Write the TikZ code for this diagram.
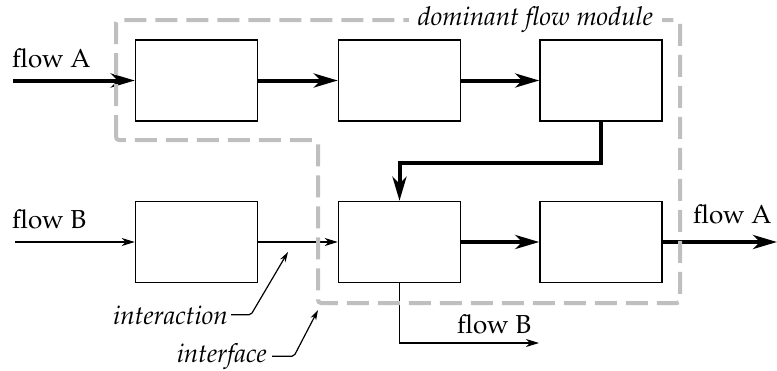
\documentclass[tikz,border=0pt]{standalone}
\usepackage[T1]{fontenc}
\usepackage{mathpazo}
\usetikzlibrary{arrows.meta}

\tikzset{
  block/.style={draw, line width=1.5pt, minimum width=122pt, minimum height=81pt, inner sep=0pt},
  lbl/.style={inner sep=0pt, font=\fontsize{26}{30}\selectfont},
  ilbl/.style={lbl, font=\fontsize{26}{30}\selectfont\itshape},
  major/.style={line width=4pt, -{Stealth[length=24pt, width=14pt, inset=7pt]}},
  minor/.style={line width=1.3pt, -{Stealth[length=13pt, width=8pt, inset=4pt]}},
  leader/.style={line width=1.2pt, rounded corners=2pt, -{Stealth[length=10pt, width=6pt, inset=3pt]}},
  module/.style={draw=black!25, line width=4pt, dash pattern=on 22pt off 9pt, rounded corners=3pt},
}

\begin{document}
\begin{tikzpicture}[x=1pt, y=-1pt]
\useasboundingbox (0,0) rectangle (777,370);

% processing blocks
\node[block] (b1) at (196.5,80.5) {};
\node[block] (b2) at (399.5,80.5) {};
\node[block] (b3) at (601,80.5) {};
\node[block] (b4) at (196.5,242) {};
\node[block] (b5) at (399.5,242) {};
\node[block] (b6) at (601,242) {};

% free ends of the external flows
\coordinate (inA) at (13,80.5);
\coordinate (outA) at (777,242);
\coordinate (inB) at (15,242);
\coordinate (outB) at (539,343);

% flow A (dominant)
\draw[major] (inA) -- (b1.west);
\draw[major] (b1.east) -- (b2.west);
\draw[major] (b2.east) -- (b3.west);
\draw[major] (b3.south) -- ++(0,41) -| (b5.north);
\draw[major] (b5.east) -- (b6.west);
\draw[major] (b6.east) -- (outA);

% flow B
\draw[minor] (inB) -- (b4.west);
\draw[minor] (b4.east) -- (b5.west);
\draw[minor] (b5.south) |- (outB);

% module boundary
\draw[module] (116,140) -- (116,20) -- (680,20) -- (680,303) -- (318,303) -- (318,140) -- cycle;
\node[ilbl, fill=white, inner xsep=9pt, anchor=base] (title) at (535.5,25) {dominant flow module};

% flow labels
\node[lbl, anchor=base west] (tA) at (12,67) {flow A};
\node[lbl, anchor=base west] (tB) at (12,228) {flow B};
\node[lbl, anchor=base west] (tA2) at (693,223) {flow A};
\node[lbl, anchor=base west] (tB2) at (457,333) {flow B};

% annotations
\node[ilbl, anchor=base east] (lint) at (228,324) {interaction};
\node[ilbl, anchor=base east] (lif) at (267,362) {interface};
\coordinate (pint) at (288,252);
\coordinate (pif) at (318,310);
\draw[leader] ([xshift=3pt]lint.east) -- ++(20,0) -- (pint);
\draw[leader] ([xshift=5pt]lif.east) -- ++(22,0) -- (pif);
\end{tikzpicture}
\end{document}
